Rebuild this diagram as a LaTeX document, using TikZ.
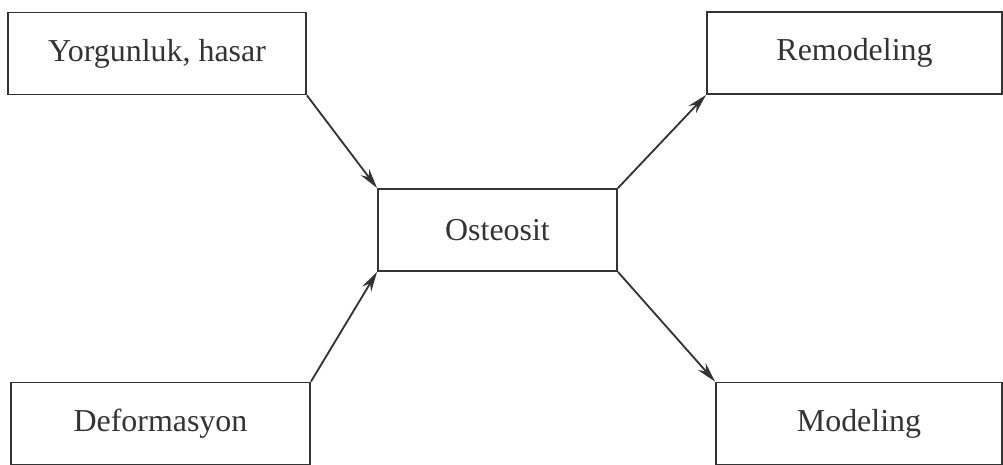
\documentclass[tikz,border=0pt]{standalone}
\usepackage{fontspec}
\setmainfont{Liberation Serif}
\usetikzlibrary{arrows.meta}

\tikzset{
  kutu/.style={draw=black!80, line width=1.3pt, inner sep=0pt, minimum height=2.05cm, font=\fontsize{22.7}{27}\selectfont, text=black!80},
  ok/.style={draw=black!80, line width=1.3pt, -{Stealth[length=5mm,width=2.6mm]}}
}

\begin{document}
\begin{tikzpicture}[x=0.025cm, y=-0.025cm]
  \useasboundingbox (0,0) rectangle (1003,465);

  % Boxes
  \node[kutu, minimum width=7.45cm] (yorgun) at (157,53.5) {Yorgunluk, hasar};
  \node[kutu, minimum width=7.475cm] (deform) at (160.5,423.5) {Deformasyon};
  \node[kutu, minimum width=5.975cm] (osteo) at (497.5,230) {Osteosit};
  \node[kutu, minimum width=7.375cm] (remod) at (854.5,53) {Remodeling};
  \node[kutu, minimum width=7.15cm] (model) at (859,423.5) {Modeling};

  % Arrows
  \draw[ok] (yorgun.south east) -- (osteo.north west);
  \draw[ok] (deform.north east) -- (osteo.south west);
  \draw[ok] (osteo.north east) -- (remod.south west);
  \draw[ok] (osteo.south east) -- (model.north west);
\end{tikzpicture}
\end{document}
